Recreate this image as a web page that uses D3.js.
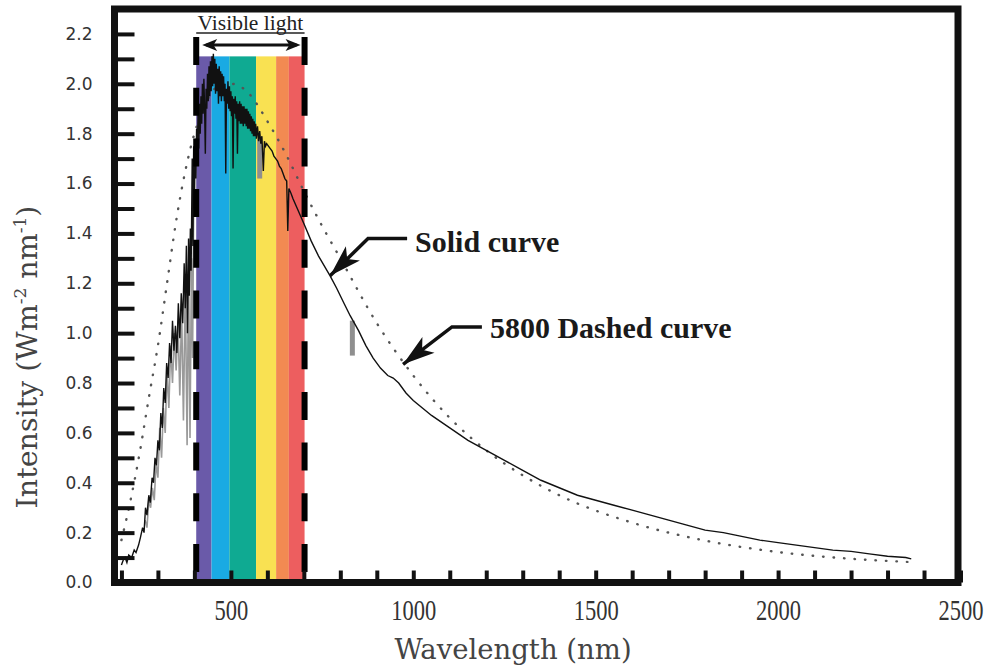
<!DOCTYPE html>
<html>
<head>
<meta charset="utf-8">
<script src="https://cdn.jsdelivr.net/npm/d3@7"></script>
<style>
  body { margin: 0; background: #fff; }
</style>
</head>
<body>
<div id="chart"></div>
<script>
// solar spectrum (solid curve)
const solarWl = [200, 205, 210, 215, 220, 228, 235, 240, 247, 252, 258, 262, 266, 270, 275, 279, 284, 288, 292, 296,
  300, 304, 308, 312, 316, 320, 324, 328, 332, 336, 340, 344, 348, 352, 356, 360, 364, 368, 372, 375,
  378, 381, 384, 386, 389, 391, 394, 396, 398,
  400, 402, 404, 406, 408, 410, 412, 414, 416, 418, 420, 422, 424, 426, 428, 430, 432, 434, 436, 438,
  440, 442, 444, 446, 448, 450, 452, 454, 456, 458, 460, 462, 464, 466, 468, 470, 472, 474, 476, 478,
  480, 482, 484, 486, 488, 490, 492, 494, 496, 498, 500, 502, 504, 506, 508, 510, 512, 514, 516, 518,
  520, 522, 524, 526, 528, 530, 532, 534, 536, 538, 540, 542, 544, 546, 548, 550, 552, 554, 556, 558,
  560, 562, 564, 566, 568, 570, 573, 576, 579, 582, 585, 589, 592, 595, 598, 603, 608, 613, 618, 623,
  628, 633, 638, 643, 648, 653, 656, 659, 665, 670, 676, 682, 688, 694, 700, 720, 740, 760, 772, 790,
  810, 827, 850, 870, 890, 910, 930, 945, 960, 980, 1000, 1050, 1100, 1150, 1200, 1250, 1300, 1350, 1400, 1450,
  1500, 1550, 1600, 1650, 1700, 1750, 1800, 1850, 1900, 1950, 2000, 2050, 2100, 2150, 2200, 2250, 2300, 2350, 2365];
const solarVal = [0.07, 0.09, 0.10, 0.08, 0.11, 0.10, 0.13, 0.12, 0.15, 0.18, 0.22, 0.20, 0.30, 0.27, 0.35, 0.32, 0.42, 0.40, 0.50, 0.47,
  0.57, 0.53, 0.68, 0.62, 0.78, 0.72, 0.88, 0.82, 0.96, 0.88, 1.05, 0.93, 1.03, 0.92, 1.12, 0.98, 1.16, 1.04, 1.28, 1.10,
  1.35, 1.00, 1.38, 1.15, 1.42, 1.25, 1.70, 1.35, 1.75,
  1.50, 1.78, 1.62, 1.82, 1.70, 1.88, 1.74, 1.92, 1.80, 1.95, 1.84, 2.00, 1.88, 2.02, 1.90, 1.72, 1.98, 1.90, 2.04, 1.93,
  2.07, 1.95, 2.09, 1.97, 2.11, 1.99, 2.12, 2.00, 2.10, 1.96, 2.08, 1.97, 2.06, 1.92, 2.07, 1.95, 2.05, 1.93, 2.04, 1.95,
  2.03, 1.93, 2.00, 1.64, 1.98, 1.92, 2.01, 1.90, 1.99, 1.89, 1.97, 1.87, 1.95, 1.66, 1.94, 1.88, 1.95, 1.86, 1.93, 1.72,
  1.92, 1.85, 1.93, 1.84, 1.92, 1.84, 1.91, 1.83, 1.91, 1.84, 1.90, 1.83, 1.90, 1.82, 1.89, 1.82, 1.88, 1.81, 1.87, 1.80,
  1.86, 1.79, 1.85, 1.79, 1.84, 1.78, 1.83, 1.77, 1.81, 1.76, 1.79, 1.65, 1.77, 1.75, 1.76, 1.75, 1.74, 1.73, 1.71, 1.70,
  1.69, 1.67, 1.66, 1.64, 1.62, 1.61, 1.41, 1.58, 1.56, 1.54, 1.52, 1.50, 1.48, 1.46, 1.44, 1.37, 1.31, 1.26, 1.23, 1.18,
  1.12, 1.07, 1.01, 0.95, 0.90, 0.86, 0.83, 0.82, 0.80, 0.76, 0.73, 0.67, 0.62, 0.57, 0.53, 0.49, 0.45, 0.41, 0.38, 0.35,
  0.33, 0.31, 0.29, 0.27, 0.25, 0.23, 0.21, 0.20, 0.185, 0.17, 0.16, 0.15, 0.14, 0.13, 0.125, 0.115, 0.105, 0.10, 0.095];

// grey under-trace in the ultraviolet
const greyWl = [265, 270, 275, 280, 285, 290, 295, 300, 305, 310, 315, 320, 325, 330, 335, 340, 345, 350, 355, 360,
  365, 370, 375, 380, 384, 388, 392, 395, 398];
const greyVal = [0.25, 0.22, 0.33, 0.30, 0.38, 0.33, 0.48, 0.42, 0.62, 0.50, 0.70, 0.60, 0.85, 0.70, 0.95, 0.80, 1.00, 0.85, 1.05, 0.75,
  1.10, 0.65, 1.20, 0.55, 1.25, 0.58, 1.30, 0.90, 1.50];
// grey spikes
const spikeWl = [579, 833];
const spikeLo = [1.62, 0.91];
const spikeHi = [1.78, 1.05];

// 5800 K dashed curve
const bbWl = [200, 225, 250, 275, 300, 325, 350, 375, 400, 425, 450, 475, 500, 525, 550, 600, 650, 700, 750, 800,
  900, 1000, 1100, 1200, 1300, 1400, 1600, 1800, 2000, 2200, 2365];
const bbVal = [0.17, 0.33, 0.52, 0.74, 0.95, 1.20, 1.45, 1.65, 1.80, 1.90, 1.97, 2.00, 2.00, 1.99, 1.96, 1.85, 1.72, 1.57, 1.43, 1.30,
  1.04, 0.83, 0.66, 0.53, 0.43, 0.35, 0.24, 0.168, 0.122, 0.095, 0.082];

// visible light bands
const bandStart = [405, 447, 496, 569, 624, 659];
const bandEnd = [447, 496, 569, 624, 659, 702];
const bandTop = 2.11;
const visibleEdges = [405, 702];

const xTicks = d3.range(200, 2501, 100);
const yTicks = d3.range(0, 23).map(i => i / 10);

const bandColors = ['#6a5aa9', '#1aaae3', '#0faa92', '#f9e152', '#f28a52', '#ed5e5f'];

const width = 990, height = 672;
const svg = d3.select('#chart').append('svg')
  .attr('width', width)
  .attr('height', height)
  .style('background-color', 'white');

const x = d3.scaleLinear().domain([181, 2500]).range([114.5, 960.5]);
const y = d3.scaleLinear().domain([0, 2.3]).range([582.5, 9]);

// colour bands
svg.append('g')
  .selectAll('rect')
  .data(bandStart)
  .join('rect')
  .attr('x', (d, i) => x(d))
  .attr('y', y(bandTop))
  .attr('width', (d, i) => x(bandEnd[i]) - x(d))
  .attr('height', y(0) - y(bandTop))
  .attr('fill', (d, i) => bandColors[i]);

// grey trace
const greyData = greyWl.map((d, i) => [d, greyVal[i]]);
svg.append('path')
  .datum(greyData)
  .attr('d', d3.line().x(d => x(d[0])).y(d => y(d[1])))
  .attr('fill', 'none')
  .attr('stroke', '#9a9a9a')
  .attr('stroke-width', 1.6);

svg.append('g')
  .selectAll('line')
  .data(spikeWl)
  .join('line')
  .attr('x1', d => x(d)).attr('x2', d => x(d))
  .attr('y1', (d, i) => y(spikeLo[i]))
  .attr('y2', (d, i) => y(spikeHi[i]))
  .attr('stroke', '#8f8f8f')
  .attr('stroke-width', 5);

// dotted blackbody curve
const bbData = bbWl.map((d, i) => [d, bbVal[i]]);
svg.append('path')
  .datum(bbData)
  .attr('d', d3.line().curve(d3.curveMonotoneX).x(d => x(d[0])).y(d => y(d[1])))
  .attr('fill', 'none')
  .attr('stroke', '#555')
  .attr('stroke-width', 2.4)
  .attr('stroke-linecap', 'round')
  .attr('stroke-dasharray', '0.5,10');

// solid curve
const solarData = solarWl.map((d, i) => [d, solarVal[i]]);
svg.append('path')
  .datum(solarData)
  .attr('d', d3.line().x(d => x(d[0])).y(d => y(d[1])))
  .attr('fill', 'none')
  .attr('stroke', '#111')
  .attr('stroke-width', 1.4);

// dashed lines marking the visible range
svg.append('g')
  .selectAll('line')
  .data(visibleEdges)
  .join('line')
  .attr('x1', d => x(d)).attr('x2', d => x(d))
  .attr('y1', 37).attr('y2', y(0))
  .attr('stroke', '#000')
  .attr('stroke-width', 6)
  .attr('stroke-dasharray', '28,22.7');

// axes
const yAxis = svg.append('g')
  .attr('transform', `translate(${x.range()[0]},0)`)
  .call(d3.axisLeft(y)
    .tickValues(yTicks)
    .tickSize(-20)
    .tickPadding(22)
    .tickFormat((d, i) => i % 2 === 0 ? d.toFixed(1) : ''));
yAxis.select('.domain').remove();
yAxis.selectAll('line').attr('stroke', '#111').attr('stroke-width', 4);
yAxis.selectAll('text')
  .style('font-family', 'DejaVu Sans')
  .style('font-size', '17px')
  .attr('fill', '#333');

const xAxis = svg.append('g')
  .attr('transform', `translate(0,${y(0)})`)
  .call(d3.axisBottom(x)
    .tickValues(xTicks)
    .tickSize(-12)
    .tickPadding(13)
    .tickFormat(d => d % 500 === 0 ? d : ''));
xAxis.select('.domain').remove();
xAxis.selectAll('line').attr('stroke', '#111').attr('stroke-width', 4);
xAxis.selectAll('text')
  .style('font-family', 'Liberation Serif')
  .style('font-size', '25px')
  .attr('transform', 'scale(0.9,1.22)')
  .attr('fill', '#333');

// frame
svg.append('rect')
  .attr('x', 114.5).attr('y', 9)
  .attr('width', 958 - 114.5).attr('height', 582.5 - 9)
  .attr('fill', 'none')
  .attr('stroke', '#111')
  .attr('stroke-width', 7);

// axis titles
svg.append('text')
  .attr('x', 513).attr('y', 659)
  .attr('text-anchor', 'middle')
  .style('font-family', 'DejaVu Serif')
  .style('font-size', '27.5px')
  .attr('fill', '#444')
  .text('Wavelength (nm)');

const yTitle = svg.append('text')
  .attr('transform', 'translate(37,357) rotate(-90)')
  .attr('text-anchor', 'middle')
  .style('font-family', 'DejaVu Serif')
  .style('font-size', '28.5px')
  .attr('fill', '#444');
yTitle.append('tspan').text('Intensity (Wm');
yTitle.append('tspan').attr('dy', -11).style('font-size', '17px').text('-2');
yTitle.append('tspan').attr('dy', 11).text(' nm');
yTitle.append('tspan').attr('dy', -11).style('font-size', '17px').text('-1');
yTitle.append('tspan').attr('dy', 11).text(')');

// visible light label with double arrow
function head(tip, from, len, half) {
  const dx = tip[0] - from[0], dy = tip[1] - from[1];
  const L = Math.hypot(dx, dy), ux = dx / L, uy = dy / L;
  const bx = tip[0] - ux * len, by = tip[1] - uy * len;
  return [tip, [bx - uy * half, by + ux * half], [tip[0] - ux * len * 0.75, tip[1] - uy * len * 0.75], [bx + uy * half, by - ux * half]];
}

const vx0 = x(visibleEdges[0]), vx1 = x(visibleEdges[1]);
const vmid = (vx0 + vx1) / 2;
svg.append('text')
  .attr('x', vmid).attr('y', 30)
  .attr('text-anchor', 'middle')
  .style('font-family', 'Liberation Serif')
  .style('font-size', '21.5px')
  .attr('fill', '#222')
  .text('Visible light');
svg.append('line')
  .attr('x1', vx0).attr('x2', vx1)
  .attr('y1', 33).attr('y2', 33)
  .attr('stroke', '#222').attr('stroke-width', 1.5);
svg.append('line')
  .attr('x1', vx0 + 10).attr('x2', vx1 - 8)
  .attr('y1', 45).attr('y2', 45)
  .attr('stroke', '#111').attr('stroke-width', 3);
[[[vx0 + 6, 45], [vx1, 45]], [[vx1 - 4, 45], [vx0, 45]]].forEach(p => {
  svg.append('polygon')
    .attr('points', head(p[0], p[1], 15, 6).join(' '))
    .attr('fill', '#111');
});

// annotations
const notes = [
  { text: 'Solid curve', tipWl: 772, tipVal: 1.23, elbowWl: 876, elbowVal: 1.38, textWl: 1005, baseVal: 1.325 },
  { text: '5800 Dashed curve', tipWl: 972, tipVal: 0.875, elbowWl: 1106, elbowVal: 1.025, textWl: 1210, baseVal: 0.98 }
];
notes.forEach(n => {
  const tip = [x(n.tipWl), y(n.tipVal)];
  const elbow = [x(n.elbowWl), y(n.elbowVal)];
  const start = [x(n.textWl) - 8, y(n.elbowVal)];
  svg.append('path')
    .attr('d', d3.line()([start, elbow, tip]))
    .attr('fill', 'none')
    .attr('stroke', '#111')
    .attr('stroke-width', 3.5);
  svg.append('polygon')
    .attr('points', head(tip, elbow, 32, 10).join(' '))
    .attr('fill', '#111');
  svg.append('text')
    .attr('x', x(n.textWl)).attr('y', y(n.baseVal))
    .style('font-family', 'Liberation Serif')
    .style('font-weight', 'bold')
    .style('font-size', '30px')
    .attr('fill', '#1a1a1a')
    .text(n.text);
});
</script>
</body>
</html>
